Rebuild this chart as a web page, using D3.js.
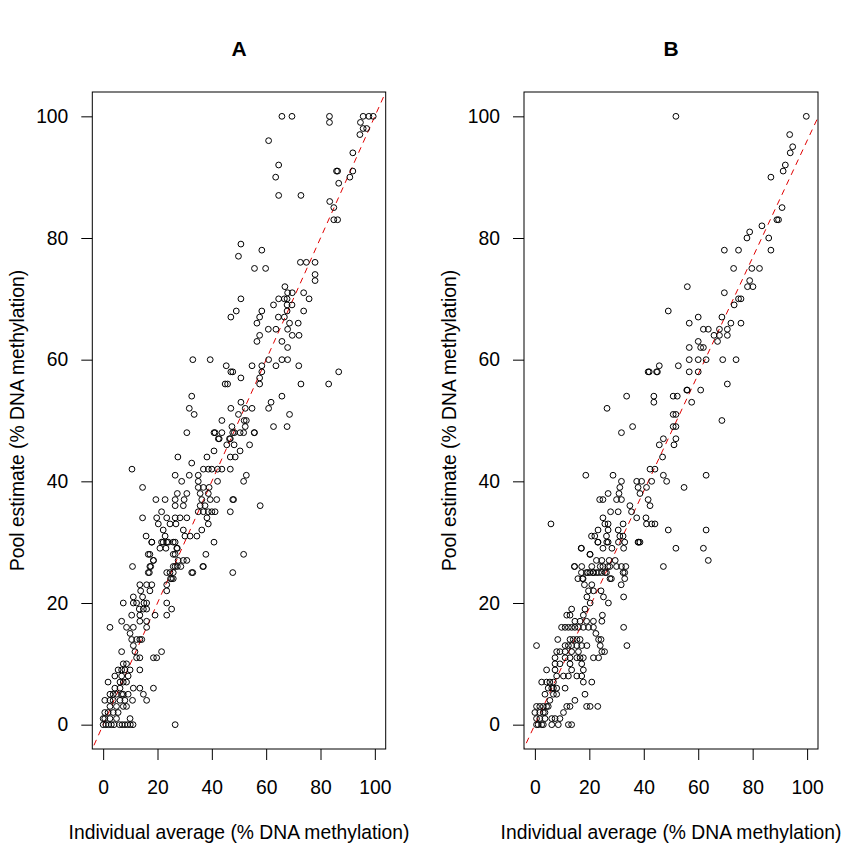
<!DOCTYPE html>
<html>
<head>
<meta charset="utf-8">
<script src="https://cdn.jsdelivr.net/npm/d3@7"></script>
<style>
  body { margin: 0; background: #fff; }
  text { font-family: "Liberation Sans", Arial, sans-serif; }
</style>
</head>
<body>
<div id="cont"></div>
<script>
// data: [individual average, pool estimate]
var panelTitles = ["A", "B"];
var tickValues = [0, 20, 40, 60, 80, 100];
var xLabel = "Individual average (% DNA methylation)";
var yLabel = "Pool estimate (% DNA methylation)";

var pointsA = [
  [65.8,100],[69.5,100],[83.3,100],[83.3,99],[95.7,100],[97.8,100],[99.4,100],[94.7,99],[95.7,98],[97,98],[94.5,97],[91.9,94],
  [86.3,91],[85.9,91],[91.9,91],[90.8,90],[86.7,89],[60.9,96],[64.6,92],[63.5,90],[64.6,87],[72.8,87],[83.4,86],[84.9,85],
  [84.9,83],[86.3,83],[50.7,79],[58.4,78],[49.8,77],[55.7,75],[59.8,75],[72.6,76],[74.8,76],[78,76],[78,74],[78,73],[66.9,72],
  [67.9,71],[69.6,71],[73.8,71],[75.8,70],[50.7,70],[64.6,70],[66.7,70],[67.7,70],[67.7,69],[62.7,69],[69.5,69],[67.7,68],
  [73.8,68],[49,68],[47,67],[58.4,68],[57.6,67],[56.6,66],[64.5,67],[66.7,67],[68.6,66],[71.8,66],[60.8,65],[63.6,65],[67.9,65],
  [69.6,64],[72.1,64],[57.6,64],[56.6,63],[65.8,63],[67.9,62],[39.4,60],[33,60],[45.3,59],[47,58],[47.7,58],[54.8,59],[58.4,59],
  [60.9,60],[63.6,59],[65.8,60],[67.9,60],[72,59],[58.4,58],[57.6,57],[57.6,56],[50.7,57],[44.9,56],[45.8,56],[72.8,56],[86.7,58],
  [83,56],[65.8,54],[61.8,53],[60.9,52],[50.7,53],[47,52],[52.3,52],[54.8,52],[49.8,51],[68.6,51],[43.7,50],[47.4,49],[52.3,49],
  [62.7,49],[67.7,49],[41.2,48],[43.7,48],[47.7,48],[50.4,48],[51.7,48],[55.6,48],[46.8,47],[42.4,47],[32.6,54],[31.7,52],
  [33.5,51],[51.9,50],[52.7,50],[48.3,48],[40.8,48],[30.8,48],[46.5,47],[48.2,46],[45.5,46],[55.7,48],[53.9,46],[42.7,47],
  [40.8,45],[50.4,45],[48.6,44],[46.8,44],[27.5,44],[32.6,43],[38.2,44],[38.7,42],[40,42],[42.1,42],[43.7,42],[36.9,42],[35,41],
  [46.8,42],[26.5,41],[28.9,40],[31.7,41],[42.1,40],[35,40],[51.7,40],[52.7,41],[35,39],[36.9,39],[39,39],[14.5,39],[27.3,38],
  [30.8,38],[35.7,38],[38.7,38],[39.4,37],[36.3,37],[19.4,37],[22.8,37],[26.5,37],[29.8,37],[41.8,37],[47.7,37],[26.5,36],
  [29.5,36],[35.7,36],[37.5,36],[38.7,35],[36.9,35],[57.8,36],[21.5,35],[23.4,34],[26.5,34],[28.3,34],[30.8,34],[35,35],[40,35],
  [41.2,35],[19.7,34],[20.3,33],[22.1,32],[24.6,33],[26.8,33],[14.5,34],[46.8,35],[48,37],[38.2,34],[38.7,33],[36.3,32],[34.5,31],
  [29.5,32],[30.1,31],[32,31],[22.8,31],[21.5,30],[23.4,30],[25.8,30],[27.1,29],[15.8,31],[17.9,30],[40.8,30],[20.9,29],[16.6,28],
  [18.5,27],[17.2,26],[16.6,25],[25.8,28],[27.6,27],[29.5,27],[26.5,26],[25.8,25],[23.4,25],[24.8,24],[37.8,28],[36.7,26],
  [32.6,25],[47.7,25],[51.7,28],[10.6,42],[17.9,30],[22.1,30],[24,30],[26.5,30],[23.1,29],[27.3,29],[17.2,28],[18.5,27],[26.5,28],
  [30.8,27],[10.8,26],[17.5,26],[25.8,26],[27.3,26],[36.9,26],[33,25],[28.6,26],[17,25],[24.6,25],[25.2,24],[25.8,24],[13.5,23],
  [16,23],[17.9,23],[23.4,23],[13.8,22],[17.2,22],[23.4,22],[11.1,21],[14.5,21],[16,20],[23.4,20],[7.4,20],[11.1,20],[12.3,20],
  [15,20],[16,19],[25.2,19],[14.8,19],[13.3,19],[10.5,18],[13.5,18],[19.1,18],[23.4,18],[6.8,17],[13.5,17],[16,17],[2.5,16],
  [8.6,16],[11.1,16],[16,16],[9.9,15],[10.5,14],[12.3,14],[13.5,14],[14.2,14],[11.1,13],[6.8,12],[11.7,12],[12.3,11],[13.5,11],
  [18.5,11],[19.7,11],[21.5,12],[7.4,10],[8.6,10],[5.5,9],[6.8,9],[8,9],[9.9,9],[13.5,9],[4.3,8],[6.8,8],[9.2,8],[6.2,7],[7.4,7],
  [8.6,7],[1.8,7],[4.3,6],[6.2,6],[11.1,6],[13.5,6],[18.5,6],[2.5,5],[3.7,5],[4.9,5],[6.8,5],[7.4,5],[9.2,5],[14.8,5],[0.6,4],
  [2.5,4],[3.7,4],[6.2,4],[8,4],[10.8,4],[16,4],[2.5,3],[4.9,3],[7.4,3],[8.6,3],[0.6,2],[1.8,2],[3.7,2],[5.5,2],[0,1],[0.6,1],
  [2.5,1],[4.9,1],[9.9,1],[0,0],[1,0],[2,0],[3,0],[4,0],[6,0],[7,0],[8,0],[9,0],[10,0],[11,0],[26.5,0]
];

var pointsB = [
  [51.8,100],[99.7,100],[93.6,97],[94.7,95],[93.8,94],[92,92],[91.2,91],[86.7,90],[90.8,85],[88.9,83],[89.5,83],[83.4,82],
  [78.9,81],[77.9,80],[85.9,80],[69.6,78],[74.8,78],[86.7,78],[73,75],[79.7,75],[82.5,75],[78.9,73],[78.1,72],[80.1,72],[56,72],
  [69.6,71],[74.8,70],[75.7,70],[73.2,69],[49,68],[60,67],[68.7,67],[56.7,66],[72,66],[75.7,66],[61.9,65],[63.7,65],[67.8,65],
  [70.7,65],[65.8,64],[67.8,64],[70.7,64],[60,63],[67.1,63],[60.9,62],[61.9,62],[56.7,62],[56.7,60],[60,60],[62.9,60],[69,60],
  [73.9,60],[45.7,59],[52.7,59],[42,58],[44.7,58],[56.7,58],[60,58],[70.7,56],[56,55],[60.9,55],[43.7,54],[50.8,54],[52.3,54],
  [57.6,53],[41.6,58],[45,58],[33.7,54],[43.7,53],[55.8,55],[26.5,52],[50.8,51],[51.8,51],[50.8,49],[51.8,49],[31.8,48],[35.9,49],
  [47.2,47],[45.7,46],[51.8,47],[51.1,46],[68.7,50],[46.9,44],[42.3,42],[44.1,42],[18.7,41],[28.7,41],[31.8,40],[31.2,39],
  [37.4,40],[39.2,40],[42.9,40],[47.2,41],[48.4,40],[30.9,38],[31.8,37],[37.9,39],[38.6,38],[41,39],[41.6,37],[42.3,36],[23.8,37],
  [25,37],[26.9,38],[30,37],[54.8,39],[62.9,41],[34.9,36],[35.5,35],[37.4,34],[27.8,35],[30.6,35],[25,34],[25.7,33],[26.9,33],
  [40.8,34],[41,33],[42.9,33],[44.1,33],[32.4,33],[30.6,32],[32.4,31],[31.2,31],[33,30],[20.8,31],[22,31],[23.2,32],[26.9,32],
  [26.3,31],[23.2,30],[26.9,30],[25,29],[37.9,30],[49,32],[51.8,29],[47.2,26],[62.9,32],[61.9,29],[63.7,27],[38.6,30],[5.9,33],
  [17.1,29],[20.2,28],[22.6,27],[25,26],[27.5,26],[30,26],[31.8,26],[32.4,25],[33,25],[33,24],[14.6,26],[17.1,25],[18.9,25],
  [20.2,25],[21.4,25],[22.6,25],[24.5,25],[26.3,25],[28.1,24],[15.8,24],[17.7,24],[17,29],[23.1,30],[26.4,30],[28.3,29],[30.7,30],
  [32.6,29],[38.1,30],[20.3,28],[24.6,27],[27.3,27],[29.5,27],[33.4,26],[14.5,26],[17.2,26],[20.9,26],[24,26],[26.8,26],[19.4,25],
  [21.5,25],[23.4,25],[25.8,25],[27.6,24],[17.5,24],[18.2,23],[20.9,23],[19.7,22],[21.5,22],[31.7,23],[32.6,21],[24.3,22],
  [25.2,21],[27,20],[19.1,21],[20.3,20],[18.4,19],[17.8,18],[13.5,19],[12.9,18],[11.7,18],[14.7,17],[16.6,17],[19,17],[21.5,17],
  [24.6,17],[24.8,18],[9.8,16],[11.1,16],[12.3,16],[13.5,16],[14.7,16],[16,16],[17.8,16],[19.7,16],[21.5,16],[22.4,15],[32.6,16],
  [0.6,13],[33.8,13],[8.4,14],[12.9,14],[14.1,14],[15.4,14],[16.6,14],[23.4,14],[24.3,14],[11.1,13],[12.3,13],[13.5,13],[15.4,13],
  [17.2,13],[19.1,13],[24,13],[8,12],[9.2,12],[11.1,12],[13.5,12],[16,12],[24.6,12],[25.6,12],[7.4,11],[11.1,11],[12.9,11],
  [15.4,11],[16.6,11],[17.8,11],[21.5,11],[23.4,11],[7.4,10],[9.2,10],[12.9,10],[17.2,10],[17.8,9],[4.3,9],[7.4,9],[13.5,9],
  [2.5,7],[4.3,7],[5.5,7],[6.8,7],[8,8],[10.5,8],[12.3,8],[15.4,8],[17.2,8],[17.8,7],[20.9,7],[4.9,6],[6.2,6],[6.8,6],[8,6],
  [11.1,6],[18.4,5],[14.7,4],[5.5,4],[6.8,5],[3.7,5],[8,5],[0.6,3],[1.8,3],[3.1,3],[4.3,3],[4.9,3],[11.7,3],[12.9,3],[19,3],
  [20.3,3],[23.1,3],[10.5,2],[0,2],[1.8,2],[3.1,2],[3.7,2],[6.2,1],[7.4,1],[9.2,1],[0.6,0],[1.2,0],[2.5,0],[3.1,0],[6.2,0],
  [8.6,0],[12.3,0],[13.5,0],[0.6,1],[1.8,1],[3.7,1]
];

// reference lines: [intercept, slope]
var refLines = [[0, 1], [0, 0.96]];

var svg = d3.select("#cont").append("svg").attr("width", 865).attr("height", 864);
svg.append("rect").attr("width", 865).attr("height", 864).attr("fill", "#fff");

var plotTop = 92, plotBottom = 749;
var panels = [
  { left: 92.3, right: 385.7, data: pointsA },
  { left: 524, right: 818, data: pointsB }
];

var y = d3.scaleLinear().domain([-4, 104]).range([plotBottom, plotTop]);

panels.forEach(function(p, i) {
  var x = d3.scaleLinear().domain([-4, 104]).range([p.left, p.right]);
  var g = svg.append("g");
  var mid = (p.left + p.right) / 2;

  g.append("clipPath").attr("id", "clip" + i)
    .append("rect").attr("x", p.left).attr("y", plotTop)
    .attr("width", p.right - p.left).attr("height", plotBottom - plotTop);

  // dashed reference line
  var a = refLines[i][0], b = refLines[i][1];
  g.append("line")
    .attr("clip-path", "url(#clip" + i + ")")
    .attr("x1", x(-10)).attr("y1", y(a + b * -10))
    .attr("x2", x(110)).attr("y2", y(a + b * 110))
    .attr("stroke", "#e00000").attr("stroke-width", 1)
    .attr("stroke-dasharray", "6,5");

  g.selectAll("circle.pt").data(p.data).enter().append("circle")
    .attr("class", "pt")
    .attr("cx", function(d) { return x(d[0]); })
    .attr("cy", function(d) { return y(d[1]); })
    .attr("r", 2.9)
    .attr("fill", "none").attr("stroke", "#000").attr("stroke-width", 1);

  g.append("rect")
    .attr("x", p.left).attr("y", plotTop)
    .attr("width", p.right - p.left).attr("height", plotBottom - plotTop)
    .attr("fill", "none").attr("stroke", "#000").attr("stroke-width", 1);

  var xa = g.append("g").attr("transform", "translate(0," + plotBottom + ")")
    .call(d3.axisBottom(x).tickValues(tickValues).tickSize(11).tickPadding(20));
  var ya = g.append("g").attr("transform", "translate(" + p.left + ",0)")
    .call(d3.axisLeft(y).tickValues(tickValues).tickSize(11).tickPadding(13));
  [xa, ya].forEach(function(ax) {
    ax.select(".domain").remove();
    ax.selectAll("line").attr("stroke", "#000");
    ax.selectAll("text").attr("font-size", 19.3).attr("fill", "#000")
      .attr("font-family", "Liberation Sans, Arial, sans-serif");
  });

  g.append("text").attr("x", mid).attr("y", 839)
    .attr("text-anchor", "middle").attr("font-size", 19.3).text(xLabel);
  g.append("text")
    .attr("transform", "translate(" + (p.left - 68) + "," + ((plotTop + plotBottom) / 2) + ") rotate(-90)")
    .attr("text-anchor", "middle").attr("font-size", 19.3).text(yLabel);
  g.append("text").attr("x", mid).attr("y", 56)
    .attr("text-anchor", "middle").attr("font-size", 21).attr("font-weight", "bold")
    .text(panelTitles[i]);
});
</script>
</body>
</html>
